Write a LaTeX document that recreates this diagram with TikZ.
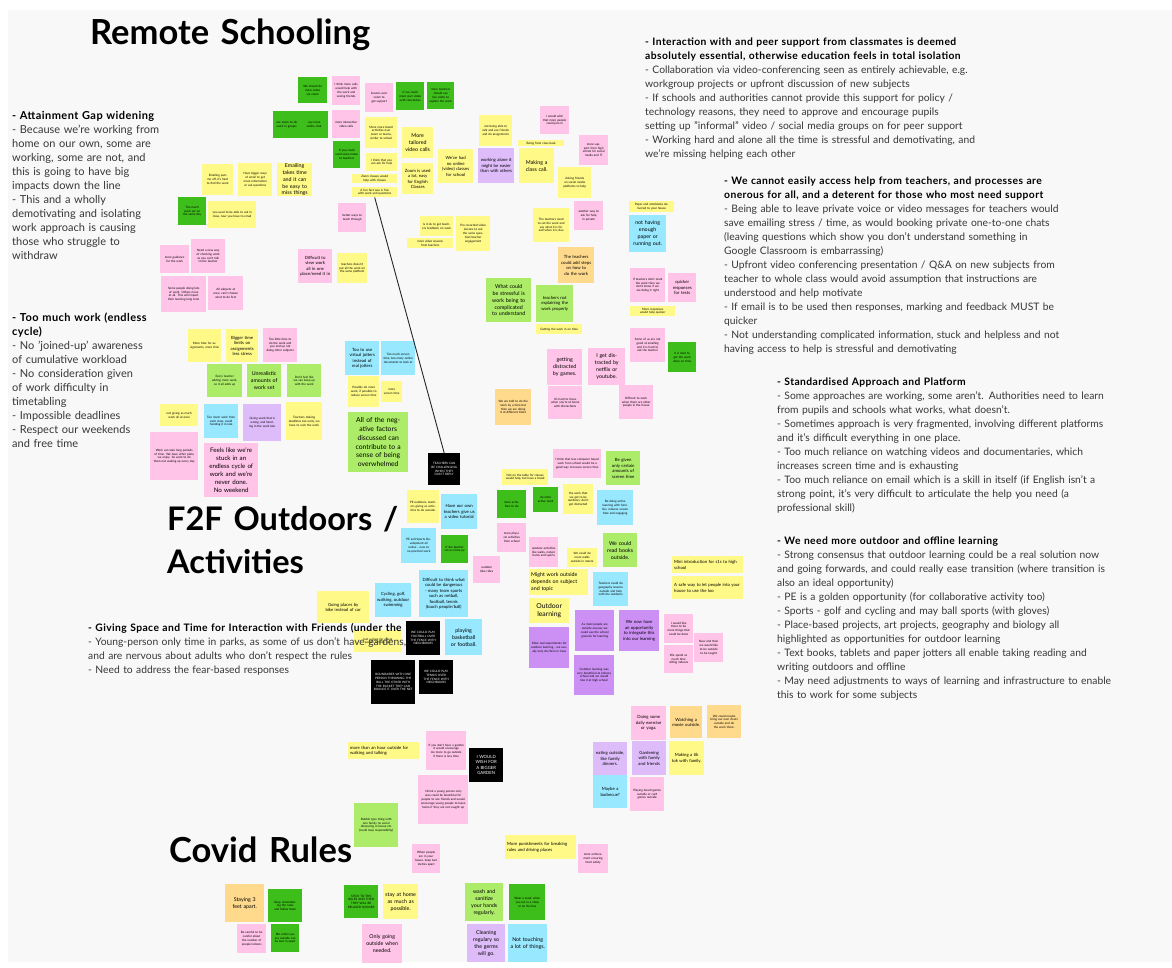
\documentclass[tikz,border=0pt]{standalone}
\usepackage{fontspec}
\setmainfont{Lato}
\newfontfamily\leadfam{Lato}[LetterSpace=4]
\usepackage{xcolor}
\usepackage{tikz}
\usetikzlibrary{positioning}
\definecolor{boardgray}{RGB}{248,248,248}
\definecolor{textgray}{RGB}{55,55,55}
\definecolor{noteyellow}{RGB}{255,250,135}
\definecolor{notepink}{RGB}{255,196,232}
\definecolor{notegreen}{RGB}{62,190,26}
\definecolor{notelime}{RGB}{172,236,104}
\definecolor{notecyan}{RGB}{152,232,255}
\definecolor{notelilac}{RGB}{222,188,250}
\definecolor{notepurple}{RGB}{204,144,245}
\definecolor{noteorange}{RGB}{255,218,140}
\newcommand\tinytext{\fontsize{3}{3.8}\selectfont}
\newcommand\smalltext{\fontsize{4.3}{5.5}\selectfont}
\newcommand\midtext{\fontsize{5.3}{6.9}\selectfont}
\newcommand\bigtext{\fontsize{6.8}{8.8}\selectfont}
\newcommand\bodytext{\fontsize{10.3}{14}\selectfont}
\newcommand\leadline[1]{{\color{black}\leadfam\bfseries #1}}

\begin{document}
\begin{tikzpicture}[x=1pt, y=-1pt,
    note/.style={rectangle, anchor=north west, inner sep=0pt, align=center, font=\tinytext, text=black},
    sz/.code 2 args={\pgfmathsetmacro\notew{#1-4}\tikzset{minimum width=#1, minimum height=#2, text width=\notew pt}},
    ynote/.style={note, fill=noteyellow},
    pnote/.style={note, fill=notepink},
    gnote/.style={note, fill=notegreen},
    lnote/.style={note, fill=notelime},
    cnote/.style={note, fill=notecyan},
    vnote/.style={note, fill=notelilac},
    unote/.style={note, fill=notepurple},
    onote/.style={note, fill=noteorange},
    bnote/.style={note, fill=black, text=white},
    stxt/.style={font=\smalltext},
    mtxt/.style={font=\midtext},
    btxt/.style={font=\bigtext},
    heading/.style={anchor=base west, inner sep=0pt, font=\fontsize{#1}{43}\selectfont\bfseries, text width=330, align=left},
    block/.style={anchor=base west, inner sep=0pt, font=\bodytext, text=textgray, text width=480, align=left},
    link/.style={draw=black!85, line width=0.9pt}
]
\useasboundingbox (0,0) rectangle (1172,968);
\fill[white] (0,0) rectangle (1172,968);
\fill[boardgray] (8,10) rectangle (1172,962);

% Headings
\node[heading=34.5] (rshead) at (90,45) {Remote Schooling};
\node[heading=32.5] (f2fhead) at (167,530) {F2F Outdoors /\\Activities};
\node[heading=34.5] (covhead) at (169,862) {Covid Rules};

% Note lying under the text
\node[ynote, sz={47}{22}] (f22) at (354,630) {Just a place for young people to hang out};

% Summary text
\node[block, text width=200, font=\fontsize{11}{14}\selectfont] (gap) at (12,120) {\leadline{- Attainment Gap widening}\\
- Because we're working from\\ home on our own, some are\\ working, some are not, and\\ this is going to have big\\ impacts down the line\\
- This and a wholly\\ demotivating and isolating\\ work approach is causing\\ those who struggle to\\ withdraw};
\node[block, text width=200, font=\fontsize{11}{14}\selectfont] (work) at (12,321) {\leadline{- Too much work (endless\\ cycle)}\\
- No 'joined-up' awareness\\ of cumulative workload\\ - No consideration given\\ of work difficulty in\\ timetabling\\
- Impossible deadlines\\ - Respect our weekends\\ and free time};
\node[block] (peers) at (645,46) {\leadline{- Interaction with and peer support from classmates is deemed\\ absolutely essential, otherwise education feels in total isolation}\\
- Collaboration via video-conferencing seen as entirely achievable, e.g.\\ workgroup projects or upfront discussion of new subjects\\
- If schools and authorities cannot provide this support for policy /\\ technology reasons, they need to approve and encourage pupils\\ setting up "informal" video / social media groups on for peer support\\
- Working hard and alone all the time is stressful and demotivating, and\\ we're missing helping each other};
\node[block] (access) at (724,185) {\leadline{- We cannot easily access help from teachers, and processes are\\ onerous for all, and a deterent for those who most need support}\\
- Being able to leave private voice or video messages for teachers would\\ save emailing stress / time, as would booking private one-to-one chats\\ (leaving questions which show you don't understand something in\\ Google Classroom is embarrassing)\\
- Upfront video conferencing presentation / Q\&A on new subjects from\\ teacher to whole class would avoid assumption that instructions are\\ understood and help motivate\\
- If email is to be used then responses, marking and feedback MUST be\\ quicker\\
- Not understanding complicated information, stuck and helpless and not\\ having access to help is stressful and demotivating};
\node[block] (standard) at (777,385) {\leadline{- Standardised Approach and Platform}\\
- Some approaches are working, some aren't. Authorities need to learn\\ from pupils and schools what works, what doesn't.\\
- Sometimes approach is very fragmented, involving different platforms\\ and it's difficult everything in one place.\\
- Too much reliance on watching videos and documentaries, which\\ increases screen time and is exhausting\\
- Too much reliance on email which is a skill in itself (if English isn't a\\ strong point, it's very difficult to articulate the help you need (a\\ professional skill)};
\node[block] (outdoor) at (777,544) {\leadline{- We need more outdoor and offline learning}\\
- Strong consensus that outdoor learning could be a real solution now\\ and going forwards, and could really ease transition (where transition is\\ also an ideal opportunity)\\
- PE is a golden opportunity (for collaborative activity too)\\
- Sports - golf and cycling and may ball sports (with gloves)\\
- Place-based projects, art projects, geography and biology all\\ highlighted as opportunities for outdoor learning\\
- Text books, tablets and paper jotters all enable taking reading and\\ writing outdoors and offline\\
- May need adjustments to ways of learning and infrastructure to enable\\ this to work for some subjects};
\node[block] (friends) at (88,631) {\leadline{- Giving Space and Time for Interaction with Friends (under the 18s)}\\
- Young-person only time in parks, as some of us don't have gardens,\\ and are nervous about adults who don't respect the rules\\
- Need to address the fear-based responses};

% Remote schooling notes, top
\node[gnote, sz={29}{26}] (r1) at (298,77) {We should do more video via zoom};
\node[pnote, sz={28}{29}] (r2) at (332,76) {I think more calls would help with the work and seeing friends};
\node[pnote, sz={28}{29}] (r3) at (365,83) {lessons over zoom to get support};
\node[gnote, sz={28}{28}] (r4) at (396,82) {If we could meet over video with classmates};
\node[gnote, sz={27}{27}] (r5) at (427,82) {more teachers should use live video to explain the work};
\node[gnote, sz={27}{27}] (r6) at (273,111) {use zoom to do work in groups};
\node[gnote, sz={28}{27}] (r7) at (300,111) {use more online chat};
\node[pnote, sz={28}{28}] (r8) at (332,110) {more interactive video calls};
\node[gnote, sz={27}{27}] (r9) at (333,141) {If you could send voice notes to teachers};
\node[ynote, sz={32}{31}] (r10) at (365,117) {More more board activities over zoom or teams, similar to school};
\node[ynote, sz={31}{18}] (r11) at (366,153) {I think that you can ask for help};
\node[ynote, sz={45}{9}] (r12) at (352,174) {Zoom classes would help with classes};
\node[ynote, sz={45}{10}] (r13) at (352,187) {A fun fact was is fine with work and questions};
\node[ynote, sz={31}{31}, mtxt] (r14) at (402,127) {More tailored video calls};
\node[ynote, sz={31}{31}, stxt] (r15) at (402,163) {Zoom is used a lot, easy for English Classes};
\node[ynote, sz={35}{34}, stxt] (r16) at (438,149) {We've had no online (video) classes for school};
\node[ynote, sz={33}{31}] (r17) at (479,115) {not being able to talk and see friends and do assignments};
\node[vnote, sz={36}{35}, stxt] (r18) at (478,148) {working alone it might be easier than with others};
\node[ynote, sz={46}{6}] (r19) at (518,140) {Being from class back};
\node[ynote, sz={35}{35}, mtxt] (r20) at (519,148) {Making a class call.};
\node[pnote, sz={29}{28}] (r21) at (540,106) {I would wish that more people could join in};
\node[pnote, sz={29}{30}] (r22) at (579,135) {more support from high school for social media and IT};
\node[ynote, sz={33}{31}] (r23) at (558,167) {Asking friends on social media platforms to help};
\node[pnote, sz={29}{29}] (r24) at (574,201) {another way to ask for help in private};
\node[ynote, sz={36}{34}] (r25) at (533,208) {The teachers need to set the work and say what it is for and when it is due};
\node[ynote, sz={33}{20}] (r26) at (420,216) {Is it ok to get teachers feedback on work};
\node[ynote, sz={46}{10}] (r27) at (407,238) {more video lessons from teachers};
\node[ynote, sz={34}{35}] (r28) at (456,216) {Pre-recorded video lessons to ask the same question/teacher engagement};
\node[onote, sz={36}{36}, stxt] (r29) at (558,247) {The teachers could add steps on how to do the work};
\node[lnote, sz={45}{44}, mtxt] (r30) at (486,278) {What could be stressful is work being to complicated to understand};
\node[lnote, sz={37}{37}, stxt] (r31) at (536,285) {teachers not explaining the work properly};
\node[ynote, sz={46}{10}] (r32) at (536,324) {Getting the work in on time};
\node[ynote, sz={45}{11}] (r33) at (629,201) {Paper and notebooks delivered to your house};
\node[cnote, sz={37}{37}, mtxt] (r34) at (629,215) {not having enough paper or running out.};
\node[pnote, sz={35}{34}] (r35) at (630,268) {If teachers don't mark the work then we don't know if we are doing it right};
\node[pnote, sz={28}{29}, stxt] (r36) at (668,273) {quicker responses for tests};
\node[ynote, sz={45}{10}] (r37) at (630,306) {More responses would help quicker};
\node[pnote, sz={35}{34}] (r38) at (630,328) {Some of us are not good at emailing and it is hard to ask the teacher};
\node[gnote, sz={28}{30}] (r39) at (668,342) {it is hard to get the work done on time};

% Remote schooling notes, left
\node[gnote, sz={28}{28}] (r40) at (178,197) {Too much work set on the same day};
\node[ynote, sz={48}{27}] (r41) at (208,201) {you used to be able to ask in class, now you have to email};
\node[ynote, sz={31}{31}] (r42) at (202,164) {Emailing puts me off, it's hard to find the work};
\node[ynote, sz={34}{33}] (r43) at (238,163) {Have bigger ways of email to get more information or ask questions};
\node[ynote, sz={35}{33}, mtxt] (r44) at (277,163) {Emailing takes time and it can be easy to miss things};
\node[pnote, sz={28}{29}] (r45) at (338,203) {better ways to teach through};
\node[pnote, sz={29}{28}] (r46) at (160,245) {more guidance for the work};
\node[pnote, sz={34}{34}] (r47) at (191,239) {Need a new way of checking work as you can't talk to the teacher};
\node[pnote, sz={45}{36}] (r48) at (161,276) {Some people doing lots of work. Others none at all. This will impact their learning long term};
\node[pnote, sz={35}{34}] (r49) at (208,276) {All subjects at once, can't choose what to do first};
\node[pnote, sz={34}{34}, stxt] (r50) at (298,249) {Difficult to view work all in one place/need it in};
\node[ynote, sz={30}{30}] (r51) at (337,253) {teachers doesn't put all the work on the same platform};
\node[ynote, sz={33}{33}] (r52) at (188,329) {More time for assignments, more time};
\node[ynote, sz={32}{33}, stxt] (r53) at (226,329) {Bigger time limits on assignments less stress};
\node[pnote, sz={34}{34}] (r54) at (263,328) {Too little time to do the work and you end up not doing other subjects};
\node[lnote, sz={35}{33}] (r55) at (207,364) {Every teacher adding more work, so it all adds up};
\node[lnote, sz={34}{33}, mtxt] (r56) at (247,364) {Unrealistic amounts of work set};
\node[lnote, sz={34}{33}] (r57) at (287,364) {Don't feel like we can keep up with the work};
\node[ynote, sz={38}{22}] (r58) at (160,404) {not giving as much work all at once};
\node[cnote, sz={34}{34}] (r59) at (204,404) {Too much work from each class, avoid handing it in late};
\node[vnote, sz={38}{37}] (r60) at (243,404) {Giving work that is wrong, and handing in the work late};
\node[ynote, sz={36}{38}] (r61) at (286,402) {Teachers making deadlines too early, we have to rush the work};
\node[pnote, sz={48}{48}] (r62) at (150,432) {Work can take long periods of time. We have other plans we enjoy. So want to do them not waking up every day};
\node[pnote, sz={54}{54}, font=\fontsize{6.2}{8}\selectfont] (r63) at (204,443) {Feels like we're stuck in an endless cycle of work and we're never done. No weekend};
\node[cnote, sz={34}{34}, stxt] (r64) at (345,341) {Too to use virtual jotters instead of real jotters};
\node[cnote, sz={34}{34}] (r65) at (381,341) {Too much screen time, too many online documents to look at};
\node[ynote, sz={31}{31}] (r66) at (348,376) {Possibly do more work, if possible to reduce screen time};
\node[ynote, sz={21}{21}] (r67) at (381,381) {more screen time};
\node[lnote, sz={60}{60}, btxt] (r68) at (348,412) {All of the negative factors discussed can contribute to a sense of being overwhelmed};
\node[bnote, sz={32}{32}] (r69) at (428,453) {TEACHERS CAN BE CHALLENGING WHEN THEY DON'T REPLY};

% Remote schooling notes, distraction
\node[pnote, sz={35}{36}, mtxt] (r70) at (547,349) {getting distracted by games.};
\node[pnote, sz={37}{37}, mtxt] (r71) at (588,348) {I get distracted by netflix or youtube.};
\node[onote, sz={36}{36}] (r72) at (495,389) {We are told to do the work by a time but then we are doing it at different times};
\node[pnote, sz={34}{33}] (r73) at (548,386) {It's hard to focus when you're at home with distractions};
\node[pnote, sz={34}{34}] (r74) at (619,385) {Difficult to work when there are other people in the house};

% F2F notes
\node[pnote, sz={48}{29}] (f1) at (553,449) {I think that less computer based work from school would be a good way to lessen screen time};
\node[lnote, sz={34}{34}, stxt] (f2) at (606,451) {Be given only certain amounts of screen time};
\node[ynote, sz={46}{16}] (f3) at (502,469) {Not on the table for classes would help, but have a break};
\node[gnote, sz={29}{28}] (f4) at (497,490) {more activities to do};
\node[gnote, sz={25}{25}] (f5) at (533,487) {do more active work};
\node[ynote, sz={30}{30}] (f6) at (563,484) {the work that we get to be outdoors, don't get distracted};
\node[cnote, sz={36}{35}] (f7) at (597,490) {Be doing active learning with families, reduces screen time and engaging};
\node[ynote, sz={32}{33}] (f8) at (407,490) {PE outdoors, teachers giving us activities to do outside.};
\node[cnote, sz={36}{35}, stxt] (f9) at (441,494) {Have our own teachers give us a video tutorial};
\node[pnote, sz={29}{29}] (f10) at (497,523) {more physical activities from school};
\node[pnote, sz={29}{30}] (f11) at (529,537) {outdoor activities like walks, nature hunts and sports};
\node[ynote, sz={30}{19}] (f12) at (567,548) {We could do more walks outside in nature};
\node[lnote, sz={34}{34}, mtxt] (f13) at (603,533) {We could read books outside.};
\node[cnote, sz={35}{35}] (f14) at (401,528) {PE and Sports Development all online - new to no practical work};
\node[gnote, sz={27}{28}] (f15) at (441,535) {If the teacher set us more pe};
\node[pnote, sz={27}{27}] (f16) at (473,556) {outdoor bike rides};
\node[ynote, sz={59}{26}, mtxt, align=left] (f17) at (529,569) {Might work outside depends on subject and topic};
\node[cnote, sz={35}{34}] (f18) at (593,572) {Teachers could do geography lessons outside and help with the outdoors};
\node[cnote, sz={49}{47}, stxt] (f19) at (419,570) {Difficult to think what could be dangerous - many team sports such as netball, football, tennis (touch people/ball)};
\node[ynote, sz={52}{32}, stxt] (f20) at (317,591) {Going places by bike instead of car};
\node[cnote, sz={36}{34}, stxt] (f21) at (375,583) {Cycling, golf, walking, outdoor swimming};
\node[bnote, sz={34}{34}] (f23) at (406,621) {WE COULD PLAY FOOTBALL OVER THE FENCE WITH NEIGHBOURS};
\node[cnote, sz={37}{36}, mtxt] (f24) at (445,619) {playing basketball or football.};
\node[bnote, sz={44}{44}] (f25) at (371,660) {BOUNDARIES WITH ONE PERSON THROWING THE BALL THE OTHER WITH THE RACKET THEY CAN BOUNCE IT OVER THE NET};
\node[bnote, sz={34}{34}] (f26) at (419,660) {WE COULD PLAY TENNIS OVER THE FENCE WITH NEIGHBOURS};
\node[ynote, sz={40}{25}, btxt] (f27) at (529,598) {Outdoor learning};
\node[unote, sz={40}{41}] (f28) at (529,627) {More real experiments for outdoor learning - we usually only do them in class};
\node[unote, sz={39}{41}] (f29) at (575,610) {As most people are outside anyway we could use the school grounds for learning};
\node[unote, sz={40}{41}, stxt] (f30) at (619,610) {We now have an opportunity to integrate this into our learning};
\node[unote, sz={40}{40}] (f31) at (574,655) {Outdoor learning was very beneficial at primary school and we would like it at high school};
\node[pnote, sz={29}{29}] (f32) at (664,614) {I would like there to be more things that could be done};
\node[pnote, sz={29}{28}] (f33) at (664,645) {We spend so much time sitting indoors};
\node[pnote, sz={29}{29}] (f34) at (694,633) {Now and then we would like to be outside to be taught};
\node[ynote, sz={71}{17}, stxt, align=left] (f35) at (672,556) {Mini introduction for s1s to high school};
\node[ynote, sz={71}{23}, stxt, align=left] (f36) at (672,576) {A safe way to let people into your house to use the loo};
\node[pnote, sz={35}{34}, stxt] (f37) at (631,706) {Doing some daily exercise or yoga.};
\node[onote, sz={32}{32}, stxt] (f38) at (670,706) {Watching a movie outside.};
\node[onote, sz={34}{33}] (f39) at (707,705) {We could maybe bring our own chairs outside and do the work there.};
\node[vnote, sz={34}{33}, stxt] (f40) at (593,742) {eating outside, like family dinners.};
\node[vnote, sz={34}{34}, stxt] (f41) at (632,741) {Gardening with family and friends};
\node[ynote, sz={35}{34}, stxt] (f42) at (669,741) {Making a tik tok with family.};
\node[cnote, sz={34}{33}, stxt] (f43) at (593,775) {Maybe a barbecue?};
\node[pnote, sz={34}{34}] (f44) at (630,777) {Playing board games outside or card games outside};
\node[ynote, sz={71}{17}, stxt, align=left] (f45) at (348,742) {more than an hour outside for walking and talking};
\node[pnote, sz={40}{39}] (f46) at (426,731) {If you don't have a garden it would encourage me more to go outside if there is less time};
\node[bnote, sz={34}{34}, stxt] (f47) at (469,748) {I WOULD WISH FOR A BIGGER GARDEN};
\node[pnote, sz={50}{49}] (f48) at (418,775) {I think a young person only area could be beneficial for people to see friends and would encourage young people to leave home if they are not caught up};

% Covid rules notes
\node[lnote, sz={44}{44}] (v1) at (354,803) {Bubble type thing with one family no social distancing in house etc (could loop responsibility)};
\node[pnote, sz={28}{29}] (v2) at (412,844) {When people are in your house, keep two metres apart};
\node[ynote, sz={71}{24}, stxt, align=left] (v3) at (505,835) {More punishments for breaking rules and driving places};
\node[pnote, sz={30}{29}] (v4) at (578,844) {more enforcement ensuring food safety};
\node[onote, sz={39}{38}, mtxt] (v5) at (225,884) {Staying 3 feet apart.};
\node[gnote, sz={34}{33}] (v6) at (268,889) {Keep remembering the rules and follow them};
\node[pnote, sz={29}{29}] (v7) at (237,924) {Be careful to be careful about the number of people indoors};
\node[gnote, sz={28}{28}] (v8) at (271,924) {But when you are outside can be two m apart};
\node[gnote, sz={34}{33}] (v9) at (344,885) {STICK TO THE RULES AND THEN THEY WILL BE RELAXED SOONER};
\node[ynote, sz={35}{35}, mtxt] (v10) at (383,884) {stay at home as much as possible.};
\node[pnote, sz={40}{39}, mtxt] (v11) at (362,924) {Only going outside when needed.};
\node[lnote, sz={38}{38}, mtxt] (v12) at (465,883) {wash and sanitize your hands regularly.};
\node[gnote, sz={36}{36}] (v13) at (509,884) {Wear a mask when you are in a shop or on the bus};
\node[vnote, sz={38}{38}, mtxt] (v14) at (467,924) {Cleaning regulary so the germs will go.};
\node[cnote, sz={39}{38}, mtxt] (v15) at (508,924) {Not touching a lot of things.};

% Link
\draw[link] (r13.south) -- (r69.north);

\end{tikzpicture}
\end{document}
